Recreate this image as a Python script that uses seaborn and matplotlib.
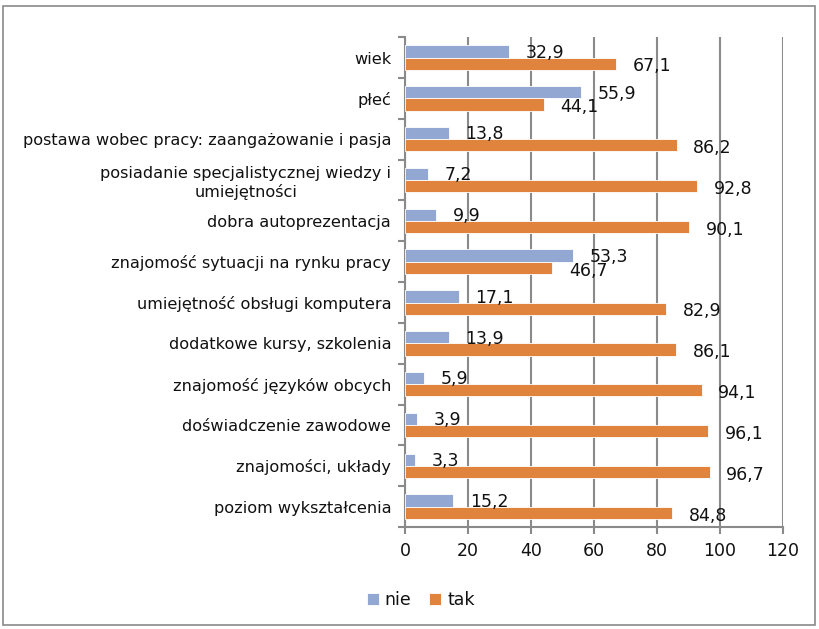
import numpy as np
import pandas as pd
import seaborn as sns
import matplotlib.pyplot as plt
from matplotlib.patches import Rectangle

categories = [
    "wiek",
    "płeć",
    "postawa wobec pracy: zaangażowanie i pasja",
    "posiadanie specjalistycznej wiedzy i\numiejętności",
    "dobra autoprezentacja",
    "znajomość sytuacji na rynku pracy",
    "umiejętność obsługi komputera",
    "dodatkowe kursy, szkolenia",
    "znajomość języków obcych",
    "doświadczenie zawodowe",
    "znajomości, układy",
    "poziom wykształcenia",
]
nie = [32.9, 55.9, 13.8, 7.2, 9.9, 53.3, 17.1, 13.9, 5.9, 3.9, 3.3, 15.2]
tak = [67.1, 44.1, 86.2, 92.8, 90.1, 46.7, 82.9, 86.1, 94.1, 96.1, 96.7, 84.8]
series = ["nie", "tak"]
colors = ["#92A8D3", "#E0833C"]

df = pd.DataFrame({
    "kategoria": categories * 2,
    "wartosc": nie + tak,
    "odpowiedz": ["nie"] * len(nie) + ["tak"] * len(tak),
})

sns.set_style("white")
plt.rcParams["font.family"] = ["DejaVu Sans"]
plt.rcParams["text.color"] = "#111111"
plt.rcParams["xtick.color"] = "#111111"
plt.rcParams["ytick.color"] = "#111111"

fig = plt.figure(figsize=(8.2, 6.29), dpi=100)
ax = fig.add_axes([0.494, 0.162, 0.461, 0.779])

sns.barplot(data=df, y="kategoria", x="wartosc", hue="odpowiedz",
            order=categories, hue_order=series, palette=colors,
            saturation=1, orient="h", width=0.6, ax=ax, zorder=3,
            edgecolor="white", linewidth=0.6)

# etykiety wartości
for cont, vals, dy in zip(ax.containers, [nie, tak], [-1, -2]):
    for bar, v in zip(cont, vals):
        y = bar.get_y() + bar.get_height() / 2
        ax.annotate(f"{v:.1f}".replace(".", ","), (bar.get_width(), y),
                    xytext=(12, dy), textcoords="offset points",
                    ha="left", va="center", fontsize=12.5, color="#111111",
                    zorder=5)

ax.set_xlim(0, 120)
ax.set_xticks(np.arange(0, 121, 20))
ax.set_ylim(len(categories) - 0.5, -0.5)
ax.grid(axis="x", color="#8a8a8a", linewidth=1.5, zorder=0)
ax.set_axisbelow(True)
ax.set_xlabel("")
ax.set_ylabel("")

for s in ["top", "right"]:
    ax.spines[s].set_visible(False)
for s in ["left", "bottom"]:
    ax.spines[s].set_color("#8a8a8a")
    ax.spines[s].set_linewidth(1.5)

ax.tick_params(axis="x", labelsize=12.5, length=5, width=1.5,
               color="#8a8a8a", labelcolor="#111111", bottom=True, pad=6)
ax.tick_params(axis="y", which="major", length=0, labelsize=11.6, pad=10,
               labelcolor="#111111")
ax.set_yticks(np.arange(-0.5, len(categories), 1), minor=True)
ax.tick_params(axis="y", which="minor", length=5, width=1.5,
               color="#8a8a8a", left=True)
for lab in ax.get_yticklabels():
    lab.set_multialignment("center")

ax.legend(loc="upper center", bbox_to_anchor=(0.513, 0.085),
          bbox_transform=fig.transFigure, ncol=2, frameon=False,
          fontsize=12.5, handlelength=0.7, handleheight=0.7,
          handletextpad=0.35, columnspacing=1.0)

fig.patches.append(Rectangle((0.004, 0.006), 0.99, 0.984,
                             transform=fig.transFigure, fill=False,
                             edgecolor="#8a8a8a", linewidth=1.2))

fig.savefig("out.png", dpi=100)
